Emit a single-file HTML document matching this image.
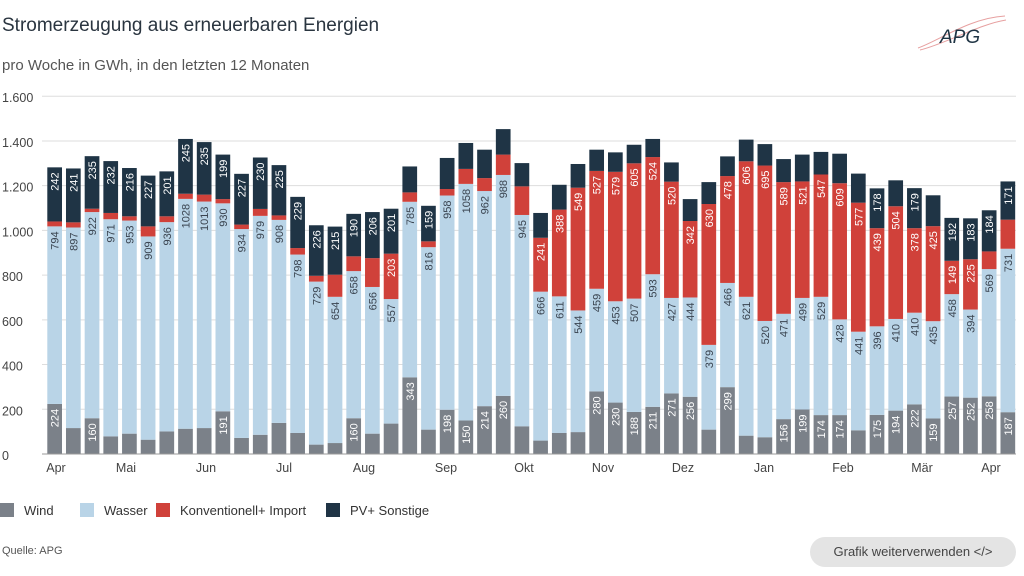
<!DOCTYPE html>
<html><head><meta charset="utf-8"><style>
body{margin:0;width:1024px;height:576px;background:#fff;font-family:"Liberation Sans",sans-serif;overflow:hidden;position:relative}
.t{position:absolute;left:2px;top:15px;font-size:19px;color:#2a3540}
.s{position:absolute;left:2px;top:57px;font-size:15px;color:#555}
.q{position:absolute;left:2px;top:545px;font-size:11px;color:#555}
.btn{position:absolute;left:810px;top:537px;width:206px;height:30px;border-radius:15px;background:#e4e4e4;color:#444;font-size:13px;line-height:30px;text-align:center}
</style></head><body>
<div class="t">Stromerzeugung aus erneuerbaren Energien</div>
<div class="s">pro Woche in GWh, in den letzten 12 Monaten</div>
<svg style="position:absolute;left:910px;top:10px" width="100" height="44"><path d="M8 38 C30 30 60 8 95 6" stroke="#e7a0a0" fill="none" stroke-width="1"/><path d="M10 40 C35 34 70 14 96 10" stroke="#e7a0a0" fill="none" stroke-width="1"/><text x="30" y="33" font-size="19" font-style="italic" fill="#1f3444" font-family="Liberation Sans">APG</text></svg>
<svg id="c" style="position:absolute;left:0;top:0" width="1024" height="576"></svg>
<div class="q">Quelle: APG</div>
<div class="btn">Grafik weiterverwenden &lt;/&gt;</div>
<script>
var D=[[224,794,22,242],[116,897,23,241],[160,922,15,235],[79,971,28,232],[91,953,19,216],[64,909,45,227],[101,936,26,201],[113,1028,23,245],[116,1013,31,235],[191,930,19,199],[72,934,20,227],[86,979,31,230],[139,908,20,225],
[94,798,29,229],[42,729,26,226],[49,654,99,215],[160,658,66,190],[91,656,129,206],[136,557,203,201],[343,785,42,116],[109,816,26,159],[198,958,29,139],[150,1058,67,116],[214,962,58,127],[260,988,91,114],[124,945,128,104],
[60,666,241,111],[94,611,388,111],[98,544,549,106],[280,459,527,95],[230,453,579,87],[188,507,605,83],[211,593,524,81],[271,427,520,86],[256,444,342,98],[109,379,630,98],[299,466,478,88],[82,621,606,97],[75,520,695,96],
[156,471,589,103],[199,499,521,120],[174,529,547,101],[174,428,609,132],[106,441,577,130],[175,396,439,178],[194,410,504,116],[222,410,378,179],[159,435,425,138],[257,458,149,192],[252,394,225,183],[258,569,79,184],[187,731,130,171]];
var C=["#7b8189","#b9d4e7","#d0413a","#1f3445"],TC=["#fff","#3a4450","#fff","#fff"];
var B=454,K=0.2236,s="";
for(var v=0;v<=1600;v+=200){var y=B-v*K;s+='<line x1="42" x2="1016" y1="'+y+'" y2="'+y+'" stroke="#ddd"/>';s+='<text x="2" y="'+(y+6)+'" font-size="12.5" fill="#444">'+(v>=1000?(v/1000|0)+'.'+String(v%1000).padStart(3,'0'):v)+'</text>';}
D.forEach(function(d,i){var x=47.3+i*18.69,c=0;d.forEach(function(val,j){var y0=B-c*K,h=val*K;s+='<rect x="'+x+'" y="'+(y0-h)+'" width="14.7" height="'+h+'" fill="'+C[j]+'"/>';
if(j==1||val>=145){s+='<text transform="translate('+(x+7.35)+','+(y0-h+5)+') rotate(-90)" text-anchor="end" dy="4" font-size="11" fill="'+TC[j]+'">'+val+'</text>';}c+=val;});});
s+='<line x1="42" x2="1016" y1="'+B+'" y2="'+B+'" stroke="#999"/>';
[["Apr",56],["Mai",126],["Jun",206],["Jul",284],["Aug",364],["Sep",446],["Okt",524],["Nov",603],["Dez",683],["Jan",764],["Feb",843],["Mär",922],["Apr",991]].forEach(function(m){s+='<text x="'+m[1]+'" y="472" text-anchor="middle" font-size="12.5" fill="#444">'+m[0]+'</text>';});
[["Wind",0],["Wasser",80],["Konventionell+ Import",156],["PV+ Sonstige",326]].forEach(function(l,j){s+='<rect x="'+l[1]+'" y="503" width="14" height="14" fill="'+C[j]+'"/><text x="'+(l[1]+24)+'" y="515" font-size="13" fill="#333">'+l[0]+'</text>';});
document.getElementById("c").innerHTML=s;
</script>
</body></html>
